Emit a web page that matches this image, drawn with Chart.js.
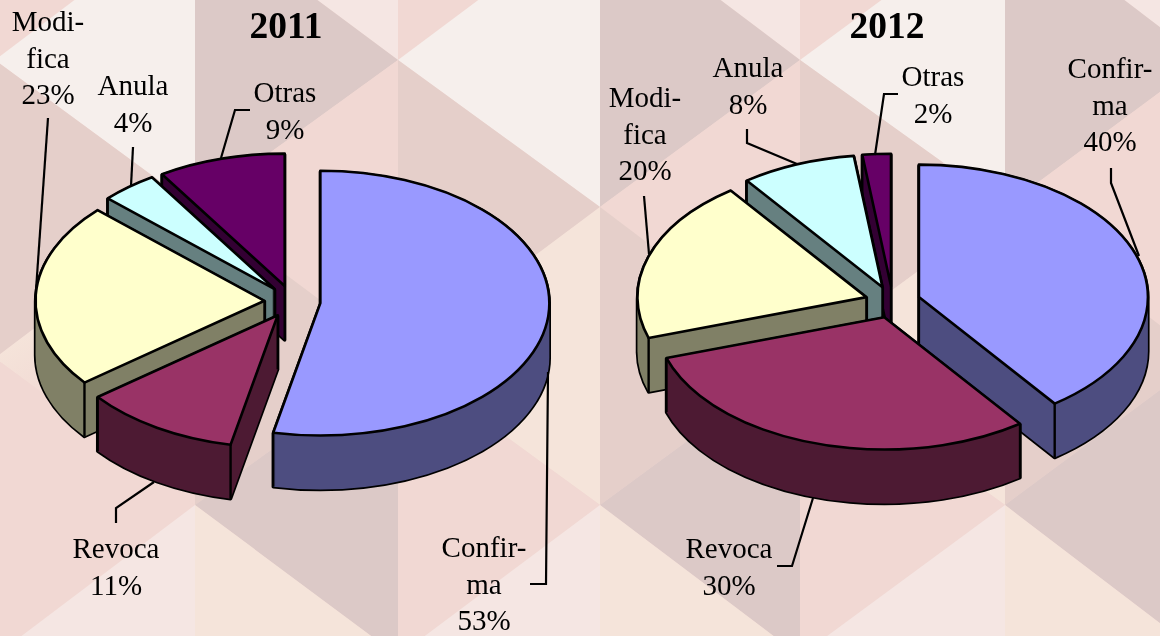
<!DOCTYPE html>
<html>
<head>
<meta charset="utf-8">
<style>
html,body{margin:0;padding:0;width:1160px;height:636px;overflow:hidden;background:#f1d8d3}
#bg{position:absolute;left:0;top:0}
canvas{position:absolute;top:0}
</style>
<script src="https://cdn.jsdelivr.net/npm/chart.js@4"></script>
</head>
<body>
<svg id="bg" width="1160" height="636" xmlns="http://www.w3.org/2000/svg">
  <defs>
    <linearGradient id="fade" gradientUnits="userSpaceOnUse" x1="0" y1="345" x2="45" y2="420">
      <stop offset="0" stop-color="#f5e4da"/><stop offset="1" stop-color="#f1d8d3"/>
    </linearGradient>
  </defs>
</svg>
<canvas id="c2011" width="572" height="636" style="left:0"></canvas>
<canvas id="c2012" width="574" height="636" style="left:600px"></canvas>
<script>
// ---- data ----
const categories = ['Confirma', 'Revoca', 'Modifica', 'Anula', 'Otras'];
const values2011 = [53.3, 11.1, 22.6, 4, 9];
const values2012 = [39.9, 30.1, 19.9, 8.1, 2];
const wrappedNames = [['Confir-', 'ma'], ['Revoca'], ['Modi-', 'fica'], ['Anula'], ['Otras']];

// ---- styles ----
const topColors  = ['#9999ff', '#993366', '#ffffcc', '#ccffff', '#660066'];
const wallColors = ['#4d4d80', '#4d1a33', '#808066', '#668080', '#330033'];

// ---- layout (page pixels) ----
const layout2011 = {
  left: 0, cx: 292.5, cy: 301.5, burst: 28,
  labels: [[484, 557], [116, 558], [48, 31], [133, 95], [285, 102]],
  leaders: [
    [[530, 584], [546, 584], [548, 372]],
    [[116, 523], [116, 508], [154, 482]],
    [[48, 118], [36, 290]],
    [[133, 147], [131, 186]],
    [[250, 110], [235, 110], [221, 158]]
  ]
};
const layout2012 = {
  left: 600, cx: 892.7, cy: 302, burst: 27.6,
  labels: [[1110, 78], [729, 558], [645, 107], [748, 77], [933, 86]],
  leaders: [
    [[1111, 168], [1111, 183], [1139, 256]],
    [[777, 566], [792, 566], [813, 498]],
    [[644, 196], [649, 254]],
    [[747, 129], [747, 143], [797, 164]],
    [[898, 94], [884, 94], [875, 155]]
  ]
};
const squash = 0.578, depth = 54, lineH = 36.6;
const serif = '"Liberation Serif", "Times New Roman", serif';

// ---- background triangles ----
(function () {
  const xs = [-5, 195, 398, 600, 800, 1005, 1203];
  const L = '#f6efec', P = '#f1d8d3', D = '#dcc9c7', M = '#e5cfca', C = '#f5e4da', W = '#f5e6e3';
  const evenY = 60, oddY = 207, period = 298;
  const svg = document.getElementById('bg');
  function tri(pts, fill) {
    const p = document.createElementNS('http://www.w3.org/2000/svg', 'polygon');
    p.setAttribute('points', pts.map(q => q.join(',')).join(' '));
    p.setAttribute('fill', fill);
    svg.appendChild(p);
  }
  for (let i = 0; i < xs.length - 1; i++) {
    const a = xs[i], b = xs[i + 1];
    if (i % 2 === 0) { // left side is the even column
      tri([[a, evenY - period], [a, evenY], [b, oddY - period]], P);
      tri([[b, oddY - period], [b, oddY], [a, evenY]], L);
      tri([[a, evenY], [a, evenY + period], [b, oddY]], M);
      tri([[b, oddY], [b, oddY + period], [a, evenY + period]], i === 0 ? 'url(#fade)' : C);
      tri([[a, evenY + period], [a, evenY + 2 * period], [b, oddY + period]], P);
      tri([[b, oddY + period], [b, oddY + 2 * period], [a, evenY + 2 * period]], W);
    } else { // left side is the odd column
      tri([[b, evenY - period], [b, evenY], [a, oddY - period]], W);
      tri([[a, oddY - period], [a, oddY], [b, evenY]], D);
      tri([[b, evenY], [b, evenY + period], [a, oddY]], P);
      tri([[a, oddY], [a, oddY + period], [b, evenY + period]], M);
      tri([[b, evenY + period], [b, evenY + 2 * period], [a, oddY + period]], D);
      tri([[a, oddY + period], [a, oddY + 2 * period], [b, evenY + 2 * period]], C);
    }
  }
})();

// ---- 3D exploded pie drawn from the library's arc elements ----
const pie3d = {
  id: 'pie3d',
  beforeDatasetsDraw(chart, args, opts) {
    const ctx = chart.ctx, lay = opts.layout;
    const arcs = chart.getDatasetMeta(0).data;
    const ox = lay.cx - lay.left, oy = lay.cy;

    const geom = arcs.map((arc, i) => {
      const mid = (arc.startAngle + arc.endAngle) / 2;
      return {
        arc, i,
        x: ox + Math.cos(mid) * lay.burst,
        y: oy + Math.sin(mid) * lay.burst * squash,
        r: arc.outerRadius,
        sort: Math.sin(mid)
      };
    }).sort((p, q) => p.sort - q.sort);

    const addOutline = (g, dy) => {
      ctx.moveTo(g.x, g.y + dy);
      ctx.ellipse(g.x, g.y + dy, g.r, g.r * squash, 0, g.arc.startAngle, g.arc.endAngle);
      ctx.closePath();
    };
    const wallPath = g => {
      ctx.beginPath();
      for (let d = depth; d >= 1; d -= 1) addOutline(g, d);
    };
    const drawTop = g => {
      ctx.save();
      ctx.translate(g.x, g.y);
      ctx.scale(1, squash);
      ctx.translate(-g.arc.x, -g.arc.y);
      g.arc.draw(ctx);
      ctx.restore();
    };

    ctx.save();
    ctx.lineJoin = 'round';
    ctx.strokeStyle = '#000';
    geom.forEach(g => {
      const s = g.arc.startAngle, e = g.arc.endAngle;
      // silhouette of the extruded wall, then the wall itself
      ctx.lineWidth = 3.4;
      wallPath(g); ctx.stroke();
      ctx.fillStyle = wallColors[g.i];
      wallPath(g); ctx.fill('nonzero');
      // vertical edges, only where an adjoining face looks at the viewer
      const startFace = Math.sin(s - Math.PI / 2) > 1e-3;
      const endFace = Math.sin(e + Math.PI / 2) > 1e-3;
      const edges = [];
      if (startFace || endFace) edges.push([g.x, g.y]);
      if (startFace || Math.sin(s) > 1e-3) edges.push([g.x + Math.cos(s) * g.r, g.y + Math.sin(s) * g.r * squash]);
      if (endFace || Math.sin(e) > 1e-3) edges.push([g.x + Math.cos(e) * g.r, g.y + Math.sin(e) * g.r * squash]);
      ctx.lineWidth = 2.4;
      edges.forEach(c => {
        ctx.beginPath(); ctx.moveTo(c[0], c[1]); ctx.lineTo(c[0], c[1] + depth); ctx.stroke();
      });
      // top face
      drawTop(g);
      ctx.lineWidth = 2.6;
      ctx.beginPath(); addOutline(g, 0); ctx.stroke();
    });
    ctx.restore();
    return false;
  },
  afterDraw(chart, args, opts) {
    const ctx = chart.ctx, lay = opts.layout, vals = chart.data.datasets[0].data;
    ctx.save();
    ctx.translate(-lay.left, 0);
    ctx.strokeStyle = '#000';
    ctx.lineWidth = 2.2;
    ctx.lineJoin = 'miter';
    lay.leaders.forEach(pts => {
      ctx.beginPath();
      pts.forEach((p, k) => k ? ctx.lineTo(p[0], p[1]) : ctx.moveTo(p[0], p[1]));
      ctx.stroke();
    });
    ctx.fillStyle = '#000';
    ctx.textAlign = 'center';
    ctx.textBaseline = 'alphabetic';
    ctx.font = '29px ' + serif;
    chart.data.labels.forEach((name, i) => {
      const lines = wrappedNames[i].concat(Math.round(vals[i]) + '%');
      lines.forEach((t, k) => ctx.fillText(t, lay.labels[i][0], lay.labels[i][1] + k * lineH));
    });
    ctx.restore();
  }
};

function makePie(id, title, values, lay) {
  return new Chart(document.getElementById(id), {
    type: 'pie',
    plugins: [pie3d],
    data: {
      labels: categories,
      datasets: [{ data: values, backgroundColor: topColors, borderWidth: 0, offset: 0 }]
    },
    options: {
      responsive: false,
      animation: false,
      radius: 229,
      events: [],
      plugins: {
        legend: { display: false },
        tooltip: { enabled: false },
        title: {
          display: true, text: title, color: '#000',
          font: { family: serif, size: 37.5, weight: 'bold' },
          padding: { top: 6, bottom: 0 }
        },
        pie3d: { layout: lay }
      }
    }
  });
}
makePie('c2011', '2011', values2011, layout2011);
makePie('c2012', '2012', values2012, layout2012);
</script>
</body>
</html>
